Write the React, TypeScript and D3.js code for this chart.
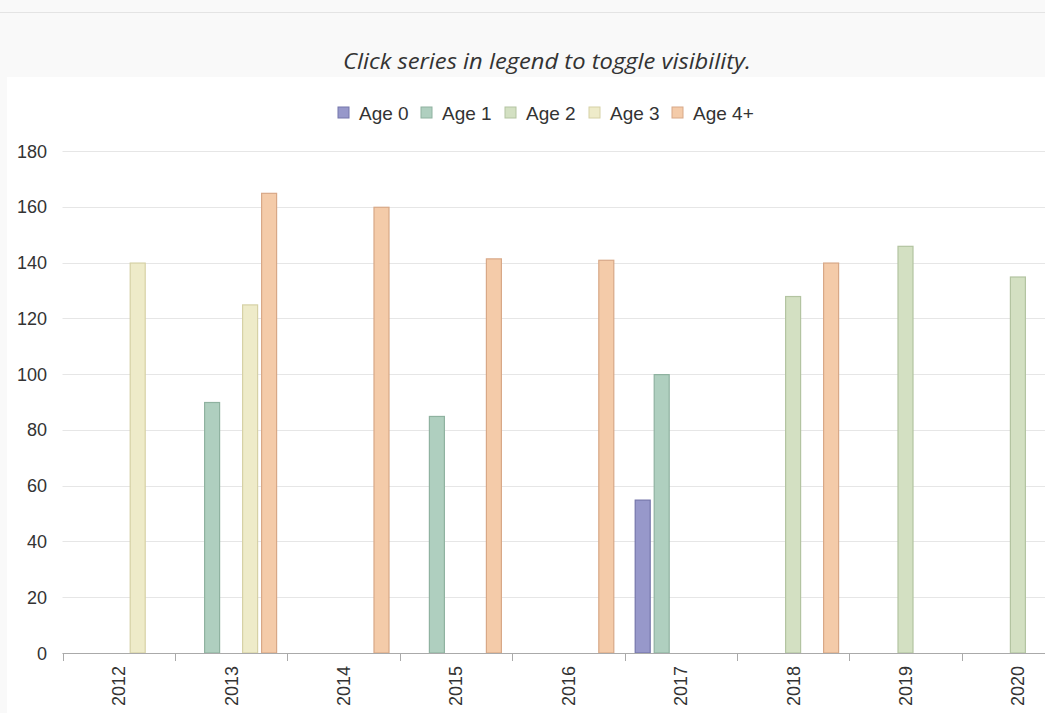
import React from "react";
import * as d3 from "d3";

const categories = ["2012", "2013", "2014", "2015", "2016", "2017", "2018", "2019", "2020"];
const seriesNames = ["Age 0", "Age 1", "Age 2", "Age 3", "Age 4+"];
const age0 = [null, null, null, null, null, 55, null, null, null];
const age1 = [null, 90, null, 85, null, 100, null, null, null];
const age2 = [null, null, null, null, null, null, 128, 146, 135];
const age3 = [140, 125, null, null, null, null, null, null, null];
const age4 = [null, 165, 160, 141.5, 141, null, 140, null, null];
const seriesValues = [age0, age1, age2, age3, age4];
const fills = ["#9798ca", "#afcfbf", "#d3e0c2", "#eeebc9", "#f4cba9"];
const strokes = ["#7576ab", "#8fb2a0", "#b3c4a1", "#d6d1a6", "#d8a887"];
const yTicks = [0, 20, 40, 60, 80, 100, 120, 140, 160, 180];

export default function App() {
  const W = 1045, H = 713;
  const left = 62.5, right = 62.5 + 9 * 112.4;
  const top = 151, bottom = 653;
  const x = d3.scaleBand<string>().domain(categories).range([left, right]).paddingInner(0).paddingOuter(0);
  const y = d3.scaleLinear().domain([0, 180]).range([bottom, top]);
  const bw = x.bandwidth();
  const gp = 8.7;
  const inner = d3.scaleBand<string>().domain(seriesNames).range([gp, bw - gp]);
  const slot = inner.bandwidth();
  const pp = 2;
  const legendX = [338, 421, 505, 589, 672];
  return (
    <svg width={W} height={H} style={{ position: "absolute", left: 0, top: 0, background: "#f9f9f9" }}
      fontFamily="'Liberation Sans', Arial, sans-serif">
      <rect x={0} y={0} width={W} height={H} fill="#f9f9f9" />
      <line x1={0} x2={W} y1={12.5} y2={12.5} stroke="#e4e4e4" />
      <rect x={7} y={77} width={W - 7} height={H - 77} fill="#ffffff" />
      <text x={547} y={69} textAnchor="middle" fontFamily="'Open Sans', sans-serif" fontStyle="italic" fontSize={22}
        textLength={408} lengthAdjust="spacingAndGlyphs" fill="#333">
        Click series in legend to toggle visibility.
      </text>
      {seriesNames.map((s, i) => (
        <g key={s}>
          <rect x={legendX[i]} y={107} width={11} height={11} fill={fills[i]} stroke={strokes[i]} strokeWidth={1} />
          <text x={legendX[i] + 21} y={119.5} fontSize={19} fill="#333">{s}</text>
        </g>
      ))}
      {yTicks.map((t) => (
        <g key={t}>
          <line x1={left} x2={W} y1={Math.round(y(t)) + 0.5} y2={Math.round(y(t)) + 0.5} stroke="#e6e6e6" />
          <text x={47} y={y(t) + 6.5} textAnchor="end" fontSize={18} fill="#333">{t}</text>
        </g>
      ))}
      {seriesValues.map((vals, si) =>
        vals.map((v, ci) =>
          v == null ? null : (
            <rect key={si + "-" + ci}
              x={(x(categories[ci]) as number) + (inner(seriesNames[si]) as number) + pp}
              y={y(v) + 0.5}
              width={slot - 2 * pp}
              height={bottom - y(v) - 0.5}
              fill={fills[si]} stroke={strokes[si]} strokeWidth={1.2} />
          )
        )
      )}
      <line x1={left} x2={W} y1={bottom + 0.5} y2={bottom + 0.5} stroke="#aaaaaa" />
      {categories.map((c) => (
        <line key={"t" + c} x1={Math.round(x(c) as number) + 0.5} x2={Math.round(x(c) as number) + 0.5} y1={bottom} y2={bottom + 8} stroke="#aaaaaa" />
      ))}
      {categories.map((c) => {
        const cx = (x(c) as number) + bw / 2;
        return (
          <text key={"l" + c} transform={`translate(${cx + 6.5},${666}) rotate(-90)`} textAnchor="end" fontSize={18} fill="#333">{c}</text>
        );
      })}
    </svg>
  );
}
